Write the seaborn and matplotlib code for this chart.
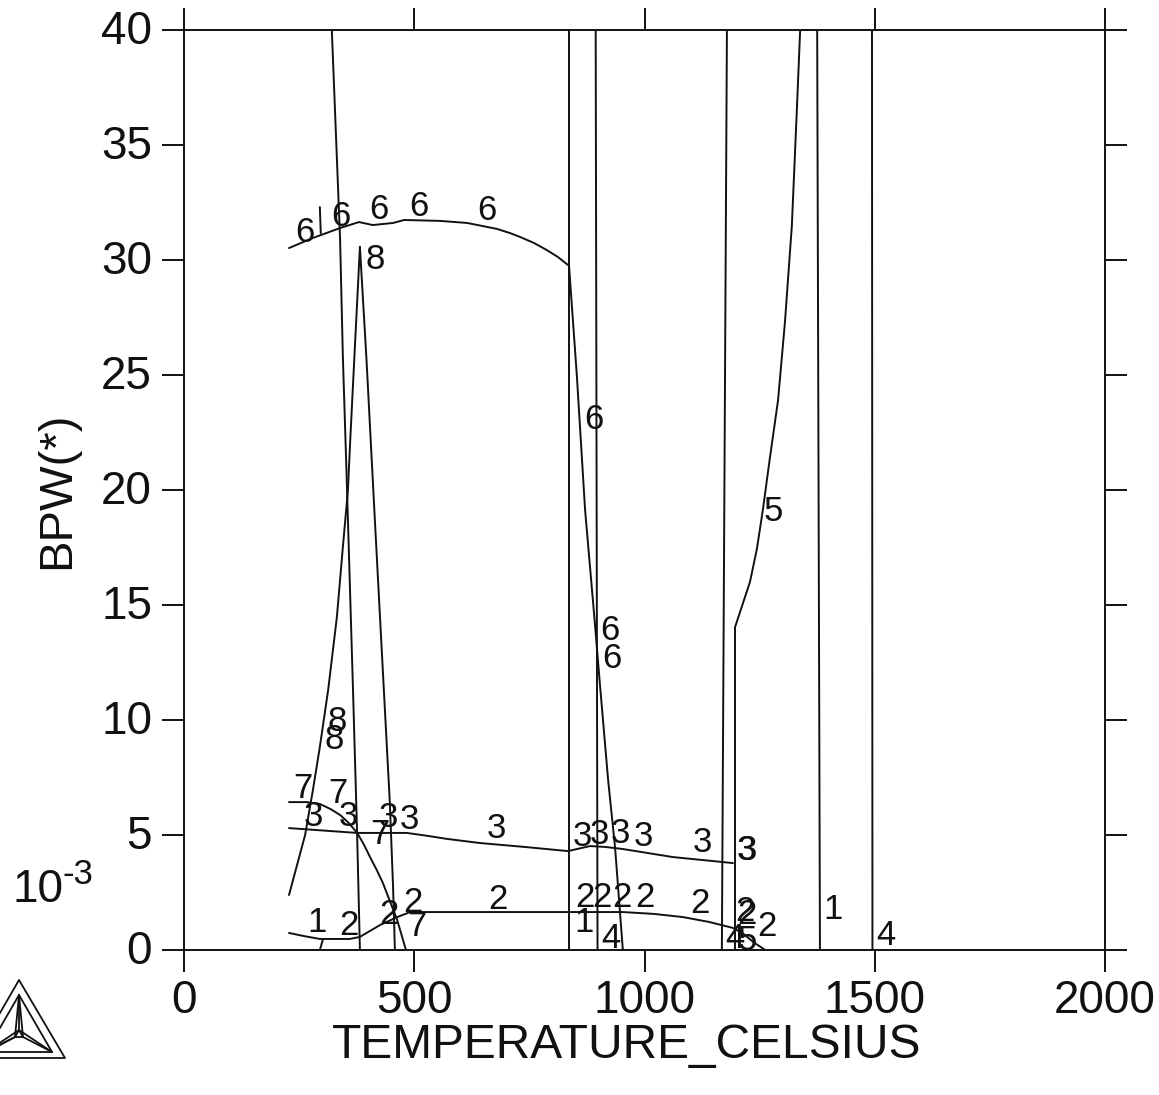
import matplotlib
matplotlib.use("Agg")
import matplotlib.pyplot as plt
import pandas as pd
import seaborn as sns
from matplotlib.lines import Line2D
from matplotlib.transforms import ScaledTranslation

# curves (temperature in C, BPW in units of 1e-3)
line_a_x = [321, 339, 345, 353, 367, 376, 382]
line_a_y = [40, 30.87, 25.78, 20.7, 11.3, 5, 0]
peak_left_x = [228, 263, 280, 295, 313, 332, 345, 356, 361, 370, 382]
peak_left_y = [2.39, 5, 6.96, 8.83, 11.3, 14.48, 17.52, 20, 22.17, 25.78, 30.57]
peak_right_x = [382, 396, 413, 434, 447, 454, 458]
peak_right_y = [30.57, 25.78, 19.26, 11.3, 6.39, 2.74, 0]
curve_7_x = [228, 267, 295, 318, 339, 358, 376, 390, 404, 418, 432, 463, 482]
curve_7_y = [6.43, 6.43, 6.35, 6.13, 5.87, 5.52, 5.09, 4.61, 4.04, 3.5, 2.91, 1.30, 0]
curve_3_x = [228, 376, 484, 530, 571, 643, 740, 834, 860, 882, 915, 953, 1062, 1192]
curve_3_y = [5.30, 5.09, 5.09, 4.96, 4.83, 4.65, 4.48, 4.30, 4.42, 4.52, 4.48, 4.39, 4.04, 3.78]
curve_2_x = [228, 262, 295, 360, 382, 404, 426, 463, 491, 643, 834, 953, 1020, 1084, 1140, 1192, 1215, 1236, 1262]
curve_2_y = [0.74, 0.6, 0.48, 0.48, 0.57, 0.83, 1.09, 1.43, 1.65, 1.65, 1.65, 1.65, 1.57, 1.43, 1.22, 0.96, 0.7, 0.35, 0]
stub_low_x = [302, 295]
stub_low_y = [0.48, 0]
curve_6_x = [228, 280, 339, 380, 410, 454, 478, 556, 615, 680, 708, 730, 760, 788, 812, 834]
curve_6_y = [30.52, 30.96, 31.39, 31.65, 31.52, 31.61, 31.74, 31.70, 31.61, 31.35, 31.17, 31.0, 30.74, 30.43, 30.13, 29.78]
stub_top_x = [295, 297]
stub_top_y = [32.3, 31.17]
drop_6_x = [836, 853, 871, 892, 903, 921, 936, 953]
drop_6_y = [29.78, 25, 19.13, 14.26, 11.6, 7.39, 4.48, 0]
curve_5_x = [1196, 1214, 1229, 1244, 1257, 1272, 1290, 1305, 1320, 1331, 1338]
curve_5_y = [14, 15.09, 16.0, 17.43, 19.13, 21.35, 23.9, 27.3, 31.5, 36.6, 40]
vert_835_x = [835, 835]
vert_835_y = [40, 0]
vert_896_x = [894, 898]
vert_896_y = [40, 0]
vert_1175_x = [1179, 1168]
vert_1175_y = [40, 0]
vert_1196_x = [1196, 1196]
vert_1196_y = [14, 0]
vert_1378_x = [1375, 1381]
vert_1378_y = [40, 0]
vert_1495_x = [1494, 1495]
vert_1495_y = [40, 0]

curves = [
    (line_a_x, line_a_y), (peak_left_x, peak_left_y), (peak_right_x, peak_right_y),
    (curve_7_x, curve_7_y), (curve_3_x, curve_3_y), (curve_2_x, curve_2_y),
    (stub_low_x, stub_low_y), (curve_6_x, curve_6_y), (stub_top_x, stub_top_y),
    (drop_6_x, drop_6_y), (curve_5_x, curve_5_y), (vert_835_x, vert_835_y),
    (vert_896_x, vert_896_y), (vert_1175_x, vert_1175_y), (vert_1196_x, vert_1196_y),
    (vert_1378_x, vert_1378_y), (vert_1495_x, vert_1495_y),
]

label_text = ["6", "6", "6", "6", "6", "8", "6", "5", "6", "6", "8", "8",
              "7", "7", "3", "3", "7", "3", "3", "3", "3", "3", "3", "3", "3", "3", "3",
              "2", "2", "2", "7", "1", "2", "2", "2", "2", "2", "2", "2", "2", "2",
              "1", "4", "4", "5", "1", "4"]
label_x = [263, 341, 423, 510, 658, 415, 890, 1279, 925, 929, 332, 326,
           258, 334, 280, 356, 426, 443, 489, 678, 866, 901, 947, 997, 1125, 1222, 1224,
           497, 682, 445, 506, 289, 358, 871, 908, 951, 1001, 1121, 1223, 1218, 1266,
           869, 927, 1196, 1223, 1409, 1524]
label_y = [31.3, 31.96, 32.3, 32.43, 32.26, 30.09, 23.17, 19.17, 13.96, 12.78, 10.04, 9.26,
           7.09, 6.87, 5.91, 5.87, 5.13, 5.83, 5.78, 5.35, 5.04, 5.13, 5.17, 5.04, 4.74, 4.43, 4.43,
           2.17, 2.30, 1.65, 1.09, 1.30, 1.17, 2.39, 2.39, 2.39, 2.35, 2.09, 1.65, 1.74, 1.09,
           1.30, 0.57, 0.57, 0.52, 1.83, 0.70]

x_ticks = [0, 500, 1000, 1500, 2000]
y_ticks = [0, 5, 10, 15, 20, 25, 30, 35, 40]
ink = "#111111"

sns.set_style("ticks")
plt.rcParams["font.family"] = ["Liberation Sans", "DejaVu Sans"]

fig = plt.figure(figsize=(11.59, 10.95), dpi=100)
ax = fig.add_axes([184 / 1159, 1 - 950 / 1095, 921 / 1159, 920 / 1095])

for xs, ys in curves:
    df = pd.DataFrame({"t": xs, "bpw": ys})
    sns.lineplot(data=df, x="t", y="bpw", estimator=None, sort=False, color=ink,
                 linewidth=1.4, ax=ax)

# labels sit about 2 px lower than their bbox centre would
label_shift = ax.transData + ScaledTranslation(0, -2 / 100, fig.dpi_scale_trans)
for s, tx, ty in zip(label_text, label_x, label_y):
    ax.text(tx, ty, s, fontsize=25, ha="center", va="center", color=ink, transform=label_shift)

ax.set_xlim(0, 2000)
ax.set_ylim(0, 40)
ax.set_xticks(x_ticks)
ax.set_yticks(y_ticks)
ax.tick_params(axis="both", which="major", length=15.8, width=1.4, color=ink,
               top=True, right=True, labelsize=33, labelcolor=ink, pad=5)
ax.tick_params(axis="y", pad=7.2)
for lab in ax.get_yticklabels():
    lab.set_transform(lab.get_transform() + ScaledTranslation(0, 3 / 100, fig.dpi_scale_trans))
for sp in ax.spines.values():
    sp.set_linewidth(1.4)
    sp.set_color(ink)

ax.set_xlabel("TEMPERATURE_CELSIUS", fontsize=34.5, color=ink, va="center")
ax.xaxis.set_label_coords(0.481, -0.104)
ax.set_ylabel("BPW(*)", fontsize=34, color=ink, va="center")
ax.yaxis.set_label_coords(-0.138, 0.5)

fig.text(13 / 1159, 1 - 890 / 1095, "10", fontsize=33, ha="left", va="center", color=ink)
fig.text(63 / 1159, 1 - 875 / 1095, "-3", fontsize=25, ha="left", va="center", color=ink)

# Thermo-Calc style logo, bottom left corner
logo = [
    [(-26, 1058), (19, 980), (65, 1058), (-26, 1058)],
    [(-14, 1052), (19, 995), (52, 1052), (-14, 1052)],
    [(19, 995), (19, 1030)], [(19, 995), (15, 1037)], [(19, 995), (23, 1037)],
    [(19, 1030), (23, 1037), (15, 1037), (19, 1030)],
    [(23, 1037), (52, 1052)], [(19, 1030), (52, 1052)],
    [(15, 1037), (-14, 1052)], [(19, 1030), (-14, 1052)],
    [(15, 1037), (-2, 1046)],
]
for seg in logo:
    fig.add_artist(Line2D([p[0] / 1159 for p in seg], [1 - p[1] / 1095 for p in seg],
                          color=ink, linewidth=1.3, transform=fig.transFigure))

fig.savefig("out.png", dpi=100)
